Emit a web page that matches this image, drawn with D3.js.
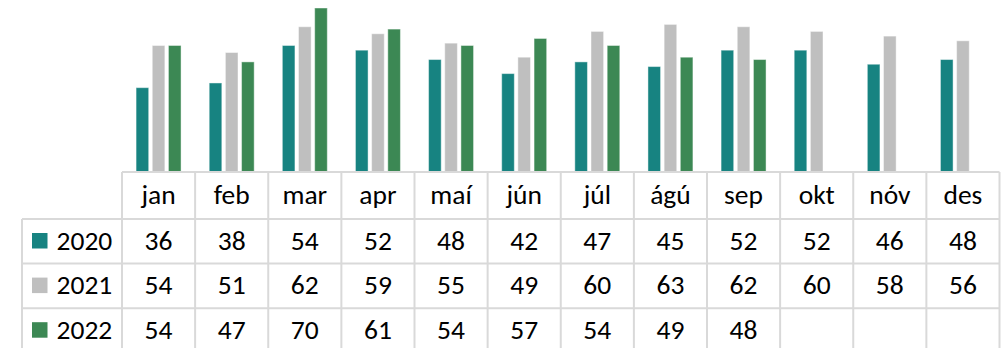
<!DOCTYPE html>
<html>
<head>
<meta charset="utf-8">
<script src="https://cdn.jsdelivr.net/npm/d3@7"></script>
<style>
  html, body { margin: 0; padding: 0; background: #fff; }
  svg { display: block; }
  text { font-family: Carlito, Lato, "Open Sans", sans-serif; fill: #000; }
</style>
</head>
<body>
<svg id="chart" width="1007" height="348"></svg>
<script>
// Monthly values per year
const months = ["jan", "feb", "mar", "apr", "maí", "jún", "júl", "ágú", "sep", "okt", "nóv", "des"];
const years = ["2020", "2021", "2022"];
const values2020 = [36, 38, 54, 52, 48, 42, 47, 45, 52, 52, 46, 48];
const values2021 = [54, 51, 62, 59, 55, 49, 60, 63, 62, 60, 58, 56];
const values2022 = [54, 47, 70, 61, 54, 57, 54, 49, 48, null, null, null];
const colors = ["#178381", "#BFBFBF", "#3C8854"];

const seriesValues = [values2020, values2021, values2022];

const svg = d3.select("#chart");

// Layout
const plotLeft = 122, plotRight = 999.5;
const baseline = 172, topY = 8;
const tableLeft = 22;
const headerBottom = 219;
const rowH = 44.6;
const gridColor = "#D9D9D9";
const fontSize = 27.5;

const x = d3.scaleBand().domain(months).range([plotLeft, plotRight]).paddingInner(0).paddingOuter(0);
const xInner = d3.scaleBand().domain(years).range([0, x.bandwidth()]).paddingInner(0.22).paddingOuter(0.87);
const y = d3.scaleLinear().domain([0, 70]).range([baseline, topY]);

// Bars
const barData = [];
years.forEach((yr, si) => {
  months.forEach((m, mi) => {
    const v = seriesValues[si][mi];
    if (v != null) barData.push({ year: yr, month: m, value: v, color: colors[si] });
  });
});

svg.append("g").selectAll("rect").data(barData).join("rect")
  .attr("x", d => x(d.month) + xInner(d.year))
  .attr("y", d => y(d.value))
  .attr("width", xInner.bandwidth())
  .attr("height", d => y(0) - y(d.value))
  .attr("fill", d => d.color)
  .attr("stroke", "rgba(255,255,255,0.45)")
  .attr("stroke-width", 1);

// Data table grid
const grid = svg.append("g").attr("stroke", gridColor).attr("stroke-width", 2).attr("fill", "none");
const rowTops = years.map((_, i) => headerBottom + i * rowH);
const tableBottom = headerBottom + years.length * rowH;

// horizontal lines
grid.append("line").attr("x1", plotLeft).attr("x2", plotRight).attr("y1", baseline).attr("y2", baseline);
[headerBottom, ...rowTops.slice(1), tableBottom].forEach(yy => {
  grid.append("line").attr("x1", tableLeft).attr("x2", plotRight).attr("y1", yy).attr("y2", yy);
});
// vertical lines
grid.append("line").attr("x1", tableLeft).attr("x2", tableLeft).attr("y1", headerBottom).attr("y2", tableBottom);
months.forEach(m => {
  const xx = x(m);
  grid.append("line").attr("x1", xx).attr("x2", xx).attr("y1", baseline).attr("y2", tableBottom);
});
grid.append("line").attr("x1", plotRight).attr("x2", plotRight).attr("y1", baseline).attr("y2", tableBottom);

// Header: month names
svg.append("g").selectAll("text").data(months).join("text")
  .attr("x", d => x(d) + x.bandwidth() / 2)
  .attr("y", baseline + 32)
  .attr("text-anchor", "middle")
  .attr("font-size", fontSize)
  .text(d => d);

// Rows: legend key + values
years.forEach((yr, si) => {
  const top = rowTops[si];
  const g = svg.append("g");
  g.append("rect")
    .attr("x", 32).attr("y", top + 14)
    .attr("width", 15.5).attr("height", 15.5)
    .attr("fill", colors[si]);
  g.append("text")
    .attr("x", 56.5).attr("y", top + 30.5)
    .attr("font-size", fontSize)
    .text(yr);
  g.selectAll("text.v").data(months.map((m, mi) => ({ m, v: seriesValues[si][mi] })).filter(d => d.v != null))
    .join("text")
    .attr("class", "v")
    .attr("x", d => x(d.m) + x.bandwidth() / 2)
    .attr("y", top + 30.5)
    .attr("text-anchor", "middle")
    .attr("font-size", fontSize)
    .text(d => d.v);
});
</script>
</body>
</html>
